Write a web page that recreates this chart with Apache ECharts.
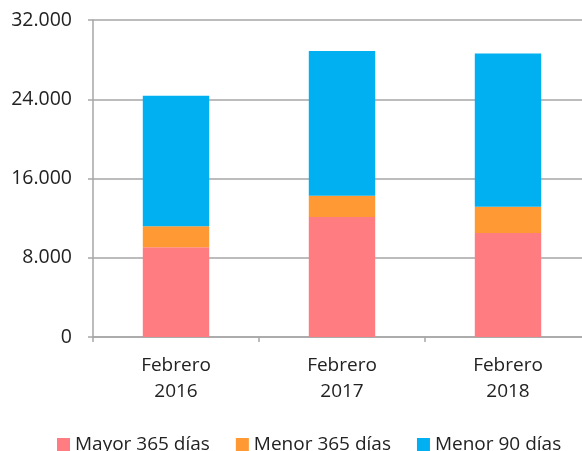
<!DOCTYPE html>
<html>
<head>
<meta charset="utf-8">
<script src="https://cdn.jsdelivr.net/npm/echarts@6/dist/echarts.min.js"></script>
<style>
  html, body { margin: 0; padding: 0; background: #fff; }
  #chart { width: 582px; height: 451px; }
</style>
</head>
<body>
<div id="chart"></div>
<script>
// categories and series values
const categories = ['Febrero\n2016', 'Febrero\n2017', 'Febrero\n2018']
const mayor365 = [9060, 12120, 10510]
const menor365 = [2130, 2130, 2630]
const menor90 = [13160, 14620, 15490]
const yTicks = [0, 8000, 16000, 24000, 32000]

const myChart = echarts.init(document.getElementById('chart'))

// 32000 -> "32.000"
function fmt(v) {
  return String(v).replace(/\B(?=(\d{3})+(?!\d))/g, '.')
}

const fontFamily = '"Open Sans", "DejaVu Sans", sans-serif'
const axisGray = '#a6a6a6'

function barSeries(name, data, color) {
  return {
    name: name,
    type: 'bar',
    stack: 'total',
    data: data,
    barWidth: '40%',
    itemStyle: { color: color },
    emphasis: { disabled: true }
  }
}

const option = {
  animation: false,
  textStyle: { fontFamily: fontFamily },
  grid: {
    left: 93,
    top: 20,
    width: 498,
    height: 317,
    outerBoundsMode: 'none'
  },
  legend: {
    top: 430,
    left: 52,
    itemWidth: 13,
    itemHeight: 13,
    itemGap: 26,
    icon: 'rect',
    textStyle: { fontSize: 19, color: '#222', fontFamily: fontFamily },
    data: ['Mayor 365 días', 'Menor 365 días', 'Menor 90 días']
  },
  xAxis: {
    type: 'category',
    data: categories,
    axisLine: { lineStyle: { color: axisGray, width: 1.5 } },
    axisTick: { show: true, length: 5, lineStyle: { color: axisGray, width: 1.5 } },
    axisLabel: { color: '#222', fontSize: 19, lineHeight: 26, margin: 16 }
  },
  yAxis: {
    type: 'value',
    min: yTicks[0],
    max: yTicks[yTicks.length - 1],
    interval: 8000,
    axisLine: { show: true, lineStyle: { color: axisGray, width: 1.5 } },
    axisTick: { show: true, length: 5, lineStyle: { color: axisGray, width: 1.5 } },
    splitLine: { lineStyle: { color: axisGray, width: 1.5 } },
    axisLabel: { color: '#222', fontSize: 19.5, margin: 21, formatter: fmt }
  },
  series: [
    barSeries('Mayor 365 días', mayor365, '#ff7c80'),
    barSeries('Menor 365 días', menor365, '#ff9933'),
    barSeries('Menor 90 días', menor90, '#00b0f0')
  ]
}

myChart.setOption(option)
</script>
</body>
</html>
